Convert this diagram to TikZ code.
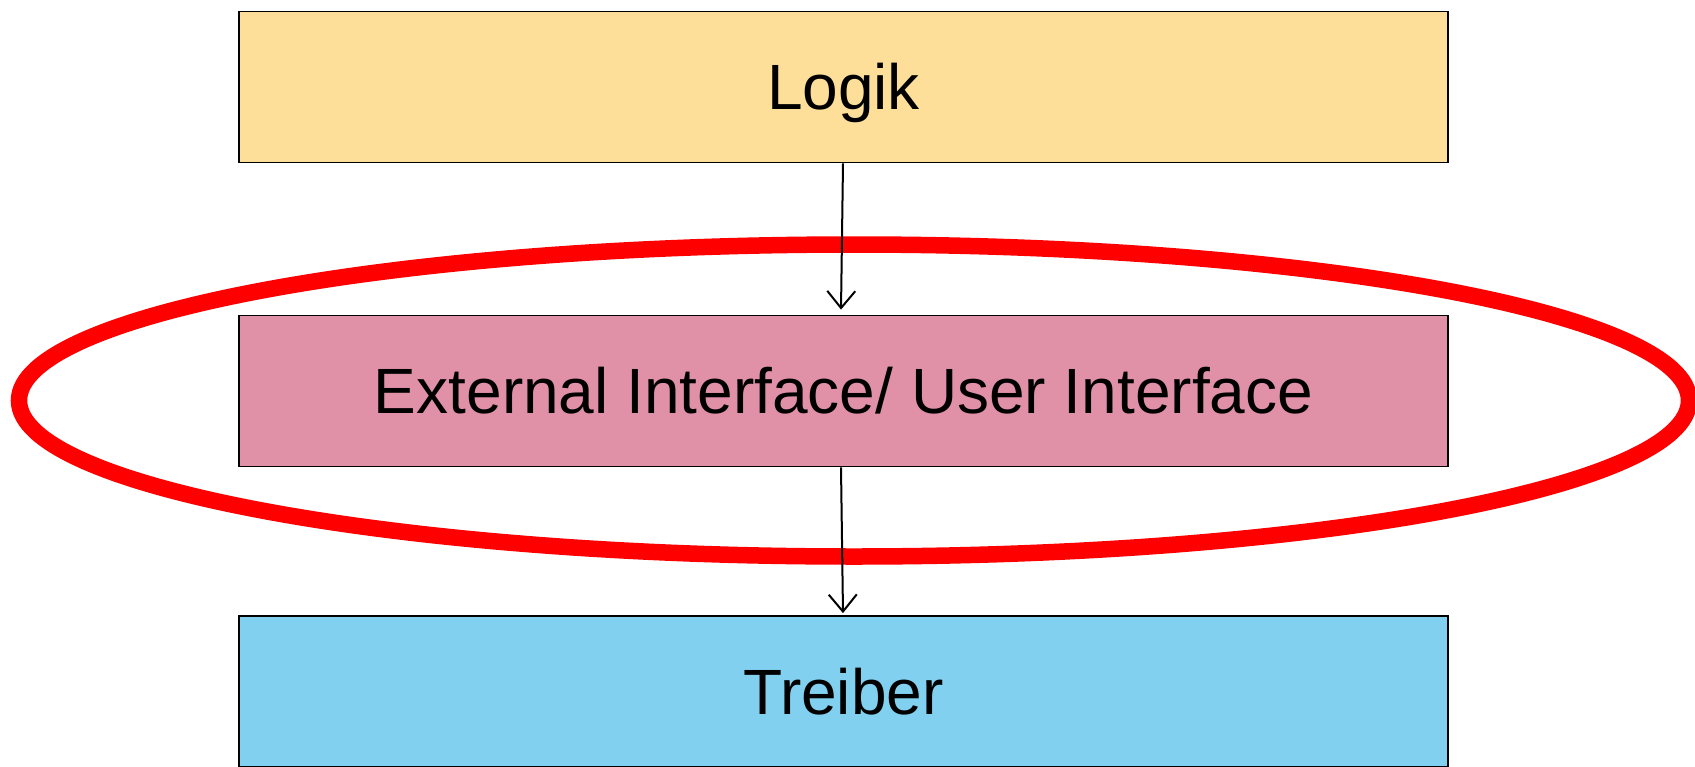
\documentclass[tikz,border=0pt]{standalone}
\usepackage{fontspec}
\setmainfont{Liberation Sans}
\usetikzlibrary{arrows.meta}
\definecolor{logikfill}{RGB}{253,223,153}
\definecolor{uifill}{RGB}{224,145,168}
\definecolor{treiberfill}{RGB}{129,208,239}
\tikzset{
  layerbox/.style={draw=black, line width=1.8pt, minimum width=1209pt, minimum height=151pt,
    inner sep=0pt, text height=45.8pt, text depth=0pt, font=\fontsize{64}{77}\selectfont},
  flow/.style={draw=black, line width=2pt, -{Straight Barb[length=17pt, width=28pt, line width=2pt]}},
  ring/.style={draw=red, line width=16.5pt}
}
\begin{document}
\begin{tikzpicture}[x=1pt, y=-1pt]
  \useasboundingbox (0,0) rectangle (1695,766);
  \clip (0,0) rectangle (1695,766);
  \fill[white] (0,0) rectangle (1695,766);

  \node[layerbox, fill=logikfill] (logik) at (843.5,87) {Logik};
  \node[layerbox, fill=uifill] (ui) at (843.5,391) {External Interface/ User Interface};
  \node[layerbox, fill=treiberfill] (treiber) at (843.5,691.5) {Treiber};

  \draw[ring] (854,400.5) ellipse [x radius=835, y radius=156];

  \draw[flow] ([xshift=-0.5pt]logik.south) -- ([xshift=-2.5pt, yshift=5pt]ui.north);
  \draw[flow] ([xshift=-2.5pt]ui.south) -- ([xshift=-0.5pt, yshift=2pt]treiber.north);
\end{tikzpicture}
\end{document}
